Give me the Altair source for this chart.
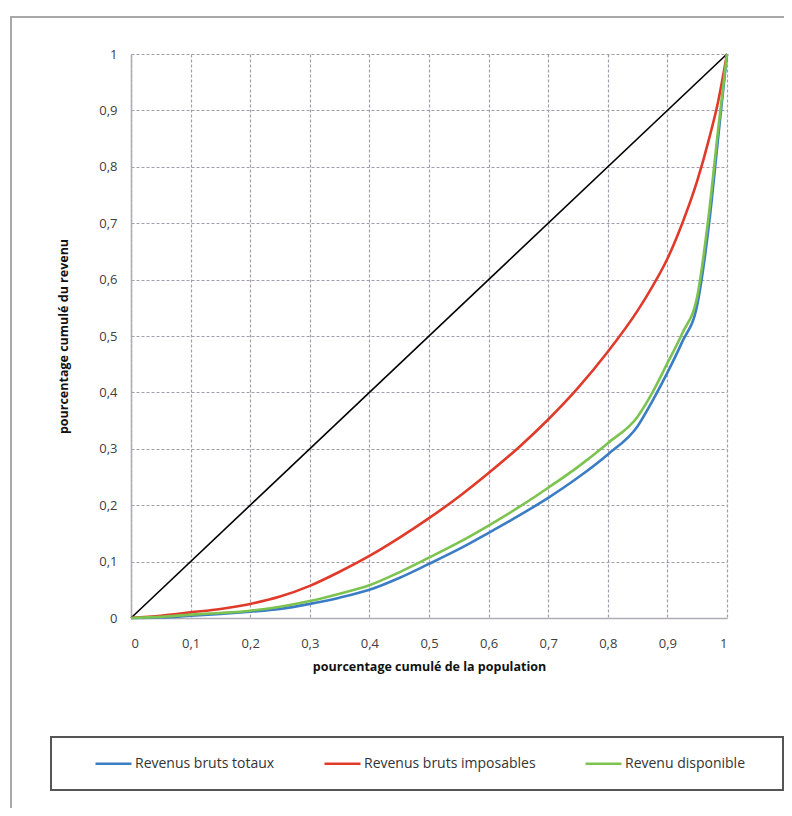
import altair as alt
import pandas as pd

# Data
x_pop = [0, 0.05, 0.1, 0.15, 0.2, 0.25, 0.3, 0.35, 0.4, 0.45, 0.5, 0.55, 0.6, 0.65,
         0.7, 0.75, 0.8, 0.85, 0.875, 0.9, 0.925, 0.95, 0.97, 0.985, 1]
rev_bruts_totaux = [0, 0.001, 0.004, 0.007, 0.011, 0.016, 0.025, 0.036, 0.05, 0.071, 0.096,
                    0.122, 0.151, 0.181, 0.213, 0.249, 0.29, 0.34, 0.385, 0.435, 0.49, 0.555,
                    0.70, 0.85, 1]
rev_bruts_imposables = [0, 0.004, 0.01, 0.016, 0.025, 0.038, 0.057, 0.082, 0.11, 0.142, 0.177,
                        0.215, 0.257, 0.302, 0.352, 0.408, 0.472, 0.545, 0.588, 0.637, 0.70,
                        0.775, 0.85, 0.915, 1]
rev_disponible = [0, 0.002, 0.006, 0.009, 0.013, 0.02, 0.03, 0.043, 0.058, 0.081, 0.107,
                  0.134, 0.164, 0.196, 0.231, 0.268, 0.31, 0.357, 0.40, 0.452, 0.505, 0.57,
                  0.72, 0.865, 1]

series_names = ["Revenus bruts totaux", "Revenus bruts imposables", "Revenu disponible"]
series_colors = ["#3b7dc4", "#e03a2a", "#7cc350"]
diag_x = [0, 1]
diag_y = [0, 1]
tick_vals = [0, 0.1, 0.2, 0.3, 0.4, 0.5, 0.6, 0.7, 0.8, 0.9, 1]

rows = []
for name, vals in zip(series_names, [rev_bruts_totaux, rev_bruts_imposables, rev_disponible]):
    for i, (xv, yv) in enumerate(zip(x_pop, vals)):
        rows.append({"serie": name, "x": xv, "y": yv, "ordre": i})
df = pd.DataFrame(rows)
df_diag = pd.DataFrame({"x": diag_x, "y": diag_y})

label_expr = "replace(format(datum.value, '~g'), '.', ',')"

xenc = alt.X("x:Q", scale=alt.Scale(domain=[0, 1], nice=False),
             axis=alt.Axis(values=tick_vals, labelExpr=label_expr,
                           title="pourcentage cumulé de la population",
                           titlePadding=10, labelPadding=19))
yenc = alt.Y("y:Q", scale=alt.Scale(domain=[0, 1], nice=False),
             axis=alt.Axis(values=tick_vals, labelExpr=label_expr,
                           title="pourcentage cumulé du revenu",
                           titlePadding=28, labelPadding=14))

frame = alt.Chart(alt.Data(values=[{"a": 1}])).mark_rect(
    fill=None, stroke="#a8a8a8", strokeWidth=2
).encode(x=alt.value(-120), x2=alt.value(700), y=alt.value(-37), y2=alt.value(800))

legend_box = alt.Chart(alt.Data(values=[{"a": 1}])).mark_rect(
    fill="white", stroke="#555555", strokeWidth=2
).encode(x=alt.value(-80), x2=alt.value(652), y=alt.value(683), y2=alt.value(736))

diag = alt.Chart(df_diag).mark_line(color="black", strokeWidth=1.6).encode(x=xenc, y=yenc)

curves = alt.Chart(df).mark_line(strokeWidth=2.6, interpolate="monotone").encode(
    x=alt.X("x:Q"),
    y=alt.Y("y:Q"),
    order="ordre:Q",
    color=alt.Color("serie:N",
                    scale=alt.Scale(domain=series_names, range=series_colors),
                    sort=series_names,
                    legend=alt.Legend(title=None, orient="none", legendX=-37, legendY=690,
                                      direction="horizontal", symbolType="stroke",
                                      symbolSize=1296, symbolStrokeWidth=2.6,
                                      labelFont="Open Sans", labelFontSize=14,
                                      labelColor="#333333", labelOffset=2, labelLimit=0,
                                      columnPadding=44, padding=0)),
)

chart = alt.layer(frame, legend_box, diag, curves).properties(
    width=596, height=564,
    autosize=alt.AutoSizeParams(type="none"),
    padding={"left": 123, "top": 46, "right": 57, "bottom": 190},
    background="white",
).configure_view(stroke=None).configure_axis(
    labelFont="Open Sans", labelFontSize=13, labelColor="#404040",
    titleFont="Open Sans", titleFontSize=12.5, titleFontWeight="bold", titleColor="#111111",
    grid=True, gridColor="#a39dab", gridDash=[3, 2], gridWidth=1.2,
    domainColor="#b0aab4", domainWidth=1.5, ticks=False,
)

chart.save("out.html", embed_options={"renderer": "svg", "actions": False})
